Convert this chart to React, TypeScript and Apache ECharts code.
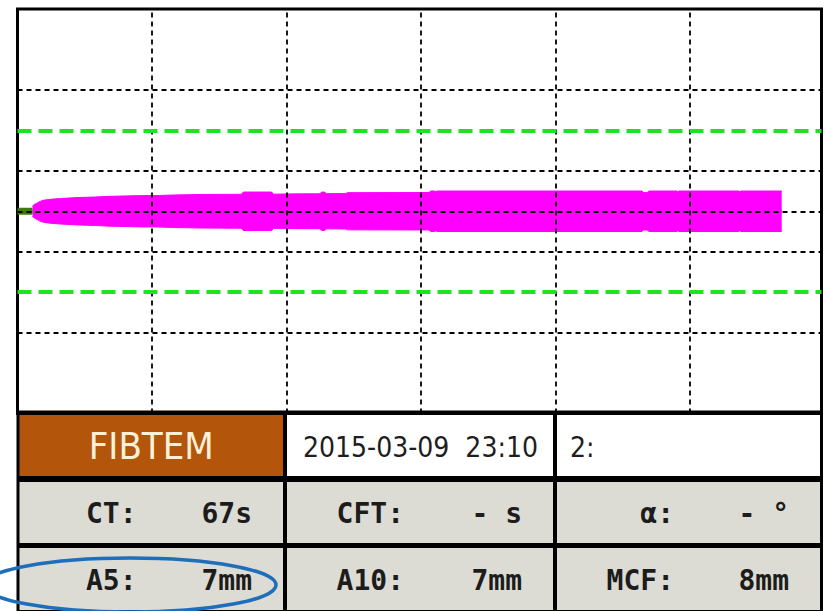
import React, { useEffect, useRef } from "react";
import * as echarts from "echarts";

// Time axis (minutes) and amplitude axis (mm, trace drawn symmetric about 0)
const timeMin = 0;
const timeMax = 59.8;
const ampMin = -40;
const ampMax = 40;

// Dashed reference grid
const gridTimes = [10, 20, 30, 40, 50];
const gridLevels = [-24, -8, 0, 8, 24];
const targetLevels = [-16, 16];

// Clotting time in seconds; flat baseline is drawn until then
const ctSeconds = 67;

// Clot amplitude (mm) over time (min)
const traceTime = [
  1.12, 1.2, 1.32, 1.47, 1.68, 1.92, 2.4, 3.2, 4.4, 5.0, 5.8, 6.9, 8.0, 9.3, 10.4, 11.7,
  13.8, 16.2, 16.65, 16.8, 18.9, 19.05, 19.7, 21.0, 22.5, 22.62, 22.85, 22.97, 24.4, 24.55,
  30.6, 30.75, 31.0, 31.1, 31.25, 46.45, 46.55, 46.85, 46.95, 49.05, 49.12, 49.2, 53.65,
  53.72, 53.8, 56.84,
];
const traceAmp = [
  1.9, 2.5, 2.9, 3.3, 3.9, 4.35, 4.7, 5.05, 5.4, 5.5, 5.65, 5.9, 6.05, 6.2, 6.2, 6.45,
  6.65, 6.7, 6.75, 7.6, 7.6, 6.75, 6.8, 6.9, 6.9, 7.6, 7.6, 6.95, 7.0, 7.35,
  7.4, 8.0, 8.0, 7.8, 8.0, 8.0, 7.4, 7.4, 8.0, 8.0, 7.7, 8.0, 8.0,
  7.75, 8.0, 8.0,
];

// Result table
const testName = "FIBTEM";
const runStamp = "2015-03-09  23:10";
const channelLabel = "2:";
const paramLabels = [
  ["CT:", "CFT:", "α:"],
  ["A5:", "A10:", "MCF:"],
];
const paramValues = [
  ["67s", "- s", "- °"],
  ["7mm", "7mm", "8mm"],
];

const MONO = "'DejaVu Sans Mono', monospace";
const COND = "'DejaVu Sans Condensed', 'DejaVu Sans', sans-serif";
const MAGENTA = "#ff00ff";

function buildTable(): any[] {
  const colX = [19.5, 287, 557];
  const colW = [263.5, 266, 263];
  const rowY = [415, 482, 548];
  const rowH = [61, 61, 62];
  const els: any[] = [];
  els.push({
    type: "rect",
    shape: { x: 16.5, y: 410.5, width: 806.5, height: 201 },
    style: { fill: "#000" },
    z: 10,
  });
  for (let r = 0; r < 3; r++) {
    for (let c = 0; c < 3; c++) {
      let fill = "#dcdcd5";
      if (r === 0) fill = c === 0 ? "#b3560b" : "#ffffff";
      els.push({
        type: "rect",
        shape: { x: colX[c], y: rowY[r], width: colW[c], height: rowH[r] },
        style: { fill },
        z: 11,
      });
    }
  }
  els.push({
    type: "text",
    x: colX[0] + colW[0] / 2,
    y: rowY[0] + rowH[0] / 2 + 0.5,
    style: {
      text: testName,
      fill: "#fdf1da",
      font: `38px ${COND}`,
      align: "center",
      verticalAlign: "middle",
    },
    z: 12,
  });
  els.push({
    type: "text",
    x: colX[1] + 16,
    y: rowY[0] + rowH[0] / 2 + 1.5,
    style: { text: runStamp, fill: "#1e1e1e", font: `28px ${COND}`, align: "left", verticalAlign: "middle" },
    z: 12,
  });
  els.push({
    type: "text",
    x: colX[2] + 13,
    y: rowY[0] + rowH[0] / 2 + 1.5,
    style: { text: channelLabel, fill: "#1e1e1e", font: `28px ${COND}`, align: "left", verticalAlign: "middle" },
    z: 12,
  });
  for (let r = 0; r < 2; r++) {
    for (let c = 0; c < 3; c++) {
      const cy = rowY[r + 1] + rowH[r + 1] / 2 + 1;
      els.push({
        type: "text",
        x: colX[c] + 117,
        y: cy,
        style: {
          text: paramLabels[r][c],
          fill: "#1c1c1c",
          font: `bold 28px ${MONO}`,
          align: "right",
          verticalAlign: "middle",
        },
        z: 12,
      });
      els.push({
        type: "text",
        x: colX[c] + colW[c] - 31,
        y: cy,
        style: {
          text: paramValues[r][c],
          fill: "#1c1c1c",
          font: `bold 28px ${MONO}`,
          align: "right",
          verticalAlign: "middle",
        },
        z: 12,
      });
    }
  }
  // Highlight ring around the A5 cell
  els.push({
    type: "ellipse",
    shape: { cx: 130, cy: 585, rx: 146, ry: 27 },
    style: { fill: "none", stroke: "#1e6eb9", lineWidth: 3.5 },
    z: 20,
  });
  return els;
}

export default function App() {
  const ref = useRef<HTMLDivElement>(null);

  useEffect(() => {
    if (!ref.current) return;
    const chart = echarts.init(ref.current, undefined, { renderer: "svg" });
    const ctMin = ctSeconds / 60;
    const upper = traceTime.map((t, i) => [t, traceAmp[i] / 2]);
    const lower = traceTime.map((t, i) => [t, -traceAmp[i] / 2]);

    chart.setOption({
      animation: false,
      backgroundColor: "#ffffff",
      grid: {
        left: 17.5,
        top: 9,
        width: 804,
        height: 404.5,
        show: true,
        backgroundColor: "#ffffff",
        borderColor: "#000000",
        borderWidth: 3,
      },
      xAxis: {
        type: "value",
        min: timeMin,
        max: timeMax,
        show: false,
        splitLine: { show: false },
      },
      yAxis: {
        type: "value",
        min: ampMin,
        max: ampMax,
        show: false,
        splitLine: { show: false },
      },
      series: [
        {
          name: "grid",
          type: "line",
          data: [[timeMin, 0]],
          symbol: "none",
          lineStyle: { opacity: 0 },
          silent: true,
          z: 1,
          markLine: {
            silent: true,
            symbol: "none",
            label: { show: false },
            lineStyle: { color: "#000000", width: 1.8, type: [5, 4] },
            data: [
              ...gridTimes.map((v) => ({ xAxis: v })),
              ...gridLevels.map((v) => ({ yAxis: v })),
            ],
          },
        },
        {
          name: "upper",
          type: "line",
          data: upper,
          symbol: "none",
          lineStyle: { color: MAGENTA, width: 1 },
          areaStyle: { color: MAGENTA, opacity: 1, origin: -0.3 },
          z: 2,
        },
        {
          name: "lower",
          type: "line",
          data: lower,
          symbol: "none",
          lineStyle: { color: MAGENTA, width: 1 },
          areaStyle: { color: MAGENTA, opacity: 1, origin: 0.3 },
          z: 2,
        },
        {
          name: "baseline",
          type: "line",
          data: [
            [timeMin, 0],
            [ctMin, 0],
          ],
          symbol: "none",
          lineStyle: { color: "#3d7d05", width: 7, cap: "butt" },
          z: 3,
          markLine: {
            silent: true,
            symbol: "none",
            label: { show: false },
            lineStyle: { color: "#1ee31e", width: 4, type: [14, 7] },
            data: targetLevels.map((v) => ({ yAxis: v })),
          },
        },
      ],
      graphic: { elements: buildTable() },
    });

    return () => chart.dispose();
  }, []);

  return (
    <div
      ref={ref}
      style={{ position: "fixed", left: 0, top: 0, width: 825, height: 611 }}
    />
  );
}
